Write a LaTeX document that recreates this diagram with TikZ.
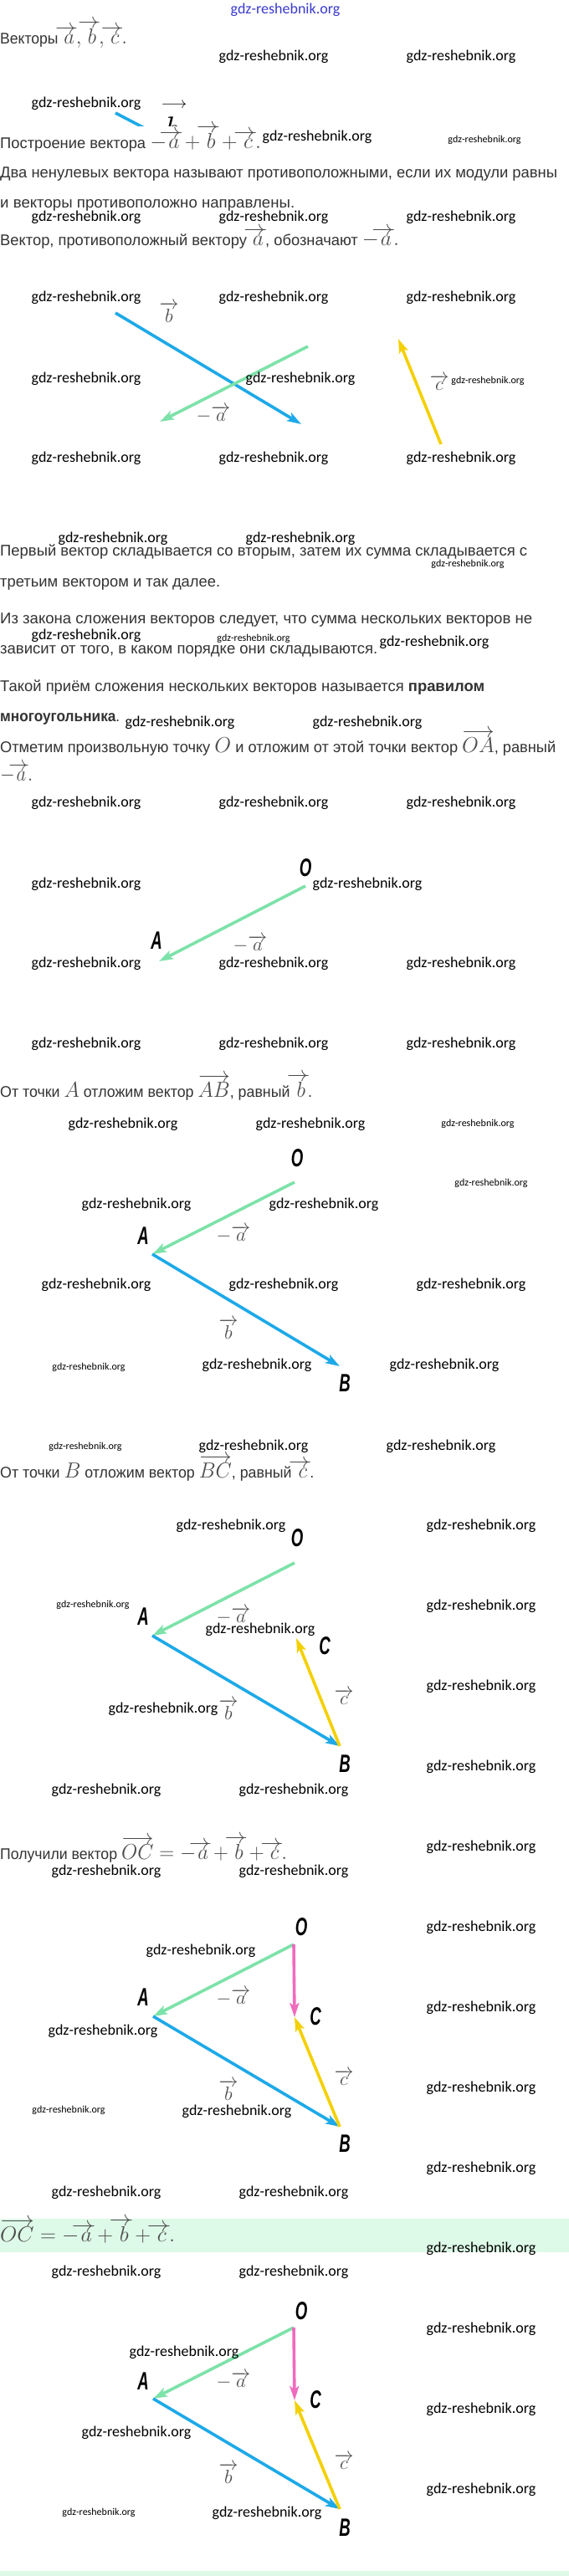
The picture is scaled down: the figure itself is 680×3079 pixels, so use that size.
\RequirePackage{fix-cm}
\documentclass[tikz,border=0pt]{standalone}
\usepackage{amsmath}
\usepackage{fontspec}
\setmainfont{Liberation Sans}
\newfontfamily\wmfont{Carlito}
\usepackage{xcolor}
\usetikzlibrary{arrows.meta}
\definecolor{txt}{HTML}{333333}
\definecolor{mth}{HTML}{4D4D4D}
\definecolor{mint}{HTML}{7DE2A9}
\definecolor{sky}{HTML}{1DA9E8}
\definecolor{gold}{HTML}{F4D000}
\definecolor{rose}{HTML}{F06BBE}
\definecolor{band}{HTML}{DDF9E7}
\definecolor{wmblue}{HTML}{3A3AD0}
% a shorter arrow over one letter
\makeatletter
\def\sarrowfill@#1#2#3#4{$\m@th\thickmuskip0mu\medmuskip\thickmuskip\thinmuskip\thickmuskip\relax#4#1\mkern-10mu\cleaders\hbox{$#4\mkern-2mu#2\mkern-2mu$}\hfill\mkern-10mu#3$}
\def\shortrightarrowfill@{\sarrowfill@\relbar\relbar\rightarrow}
\newcommand{\ora}{\mathpalette{\overarrow@\shortrightarrowfill@}}
\makeatother
% math inside the text lines
\newcommand{\mv}[1]{{\color{mth}\fontsize{26}{26}\selectfont\medmuskip=3mu$#1$}}
% squeeze a line to the width it has on the page
\newcommand{\fitw}[2]{\sbox0{#2}\scalebox{\fpeval{#1pt/\wd0}}[1]{\usebox0}}
\newcommand{\ptname}[1]{\scalebox{0.62}[1]{\bfseries\itshape #1}}
\tikzset{
  vec/.style={line width=3.6pt, -{Stealth[length=17pt,width=11pt,inset=4pt]}},
  txtline/.style={text=txt, font=\fontsize{18.5}{22}\selectfont, anchor=base west, inner sep=0pt},
  wm/.style={text=black, font=\wmfont\fontsize{18}{21}\selectfont, inner sep=0pt},
  wms/.style={text=black, font=\wmfont\fontsize{12}{14}\selectfont, inner sep=0pt},
  ptlab/.style={text=black, font=\fontsize{30}{30}\selectfont, inner sep=0pt},
  veclab/.style={text=mth, font=\fontsize{23}{23}\selectfont, inner sep=0pt}
}
\newcommand{\va}{\overrightarrow{a}}
\newcommand{\vb}{\overrightarrow{b}}
\newcommand{\vc}{\overrightarrow{c}}
\begin{document}
\begin{tikzpicture}[x=1pt,y=-1pt]
  \useasboundingbox[fill=white] (0,0) rectangle (680,3079);
  % green bands
  \fill[band] (0,2652) rectangle (680,2692);
  \fill[band] (0,3073) rectangle (680,3079);

  % text lines
  \node[txtline] (t1) at (0,52) {\fitw{152}{Векторы \mv{\ora{a}, \ora{b}, \ora{c}.}}};
  \begin{scope}
    \clip (100,110) rectangle (240,150);
    \coordinate (frA) at (138,135);
    \coordinate (frB) at (182,158);
    \draw[line width=3.6pt, sky] (frA) -- (frB);
    \node[text=black, font=\fontsize{19}{19}\selectfont, inner sep=0pt] (frarr) at (208,126) {$\longrightarrow$};
    \node[text=black, font=\fontsize{40}{40}\selectfont, anchor=north, inner sep=0pt] (frb) at (206,140) {$b$};
  \end{scope}
  \node[txtline] (t2) at (0,177) {\fitw{312}{Построение вектора \mv{-\ora{a}+\ora{b}+\ora{c}.}}};
  \node[txtline] (t3) at (0,212) {\fitw{666}{Два ненулевых вектора называют противоположными, если их модули равны}};
  \node[txtline] (t4) at (0,248) {\fitw{352}{и векторы противоположно направлены.}};
  \node[txtline] (t5) at (0,293) {\fitw{477}{Вектор, противоположный вектору \mv{\ora{a}}, обозначают \mv{-\ora{a}.}}};
  \node[txtline] (t6) at (0,664) {\fitw{630}{Первый вектор складывается со вторым, затем их сумма складывается с}};
  \node[txtline] (t7) at (0,701) {\fitw{263}{третьим вектором и так далее.}};
  \node[txtline] (t8) at (0,745) {\fitw{636}{Из закона сложения векторов следует, что сумма нескольких векторов не}};
  \node[txtline] (t9) at (0,781) {\fitw{451}{зависит от того, в каком порядке они складываются.}};
  \node[txtline] (t10) at (0,826) {\fitw{579}{Такой приём сложения нескольких векторов называется \textbf{правилом}}};
  \node[txtline] (t11) at (0,862) {\fitw{143}{\textbf{многоугольника}.}};
  \node[txtline] (t12) at (0,899) {\fitw{664}{Отметим произвольную точку \mv{O} и отложим от этой точки вектор \mv{\overrightarrow{OA}}, равный}};
  \node[txtline] (t13) at (0,933) {\fitw{39}{\mv{-\ora{a}.}}};
  \node[txtline] (t14) at (0,1311) {\fitw{373}{От точки \mv{A} отложим вектор \mv{\overrightarrow{AB}}, равный \mv{\ora{b}}.}};
  \node[txtline] (t15) at (0,1766) {\fitw{375}{От точки \mv{B} отложим вектор \mv{\overrightarrow{BC}}, равный \mv{\ora{c}}.}};
  \node[txtline] (t16) at (0,2222) {\fitw{343}{Получили вектор \mv{\overrightarrow{OC}=-\ora{a}+\ora{b}+\ora{c}.}}};
  \node[txtline] (t17) at (0,2679) {\fitw{209}{\mv{\overrightarrow{OC}=-\ora{a}+\ora{b}+\ora{c}.}}};

  % the three vectors
  \coordinate (b1s) at (138,374);
  \coordinate (b1e) at (360,507);
  \coordinate (a1s) at (368,414);
  \coordinate (a1e) at (191,504);
  \coordinate (c1s) at (527,531);
  \coordinate (c1e) at (476,405);
  \draw[vec, sky] (b1s) -- (b1e);
  \draw[vec, mint] (a1s) -- (a1e);
  \draw[vec, gold] (c1s) -- (c1e);
  \node[veclab] (lb1) at (202,373) {$\vb$};
  \node[veclab] (la1) at (255,495) {$-\va$};
  \node[veclab] (lc1) at (525,457) {$\vc$};

  % step 1: OA
  \coordinate (O2) at (365,1059);
  \coordinate (A2) at (190,1149);
  \draw[vec, mint] (O2) -- (A2);
  \node[ptlab] (nO2) at (365,1037) {\ptname{O}};
  \node[ptlab] (nA2) at (187,1124) {\ptname{A}};
  \node[veclab] (la2) at (299,1128) {$-\va$};

  % step 2: AB
  \coordinate (O3) at (352,1413);
  \coordinate (A3) at (182,1499);
  \coordinate (B3) at (406,1633);
  \draw[vec, mint] (O3) -- (A3);
  \draw[vec, sky] (A3) -- (B3);
  \node[ptlab] (nO3) at (355,1384) {\ptname{O}};
  \node[ptlab] (nA3) at (171,1477) {\ptname{A}};
  \node[ptlab] (nB3) at (412,1653) {\ptname{B}};
  \node[veclab] (la3) at (279,1475) {$-\va$};
  \node[veclab] (lb3) at (273,1588) {$\vb$};

  % step 3: BC
  \coordinate (O4) at (352,1868);
  \coordinate (A4) at (182,1955);
  \coordinate (B4) at (406,2087);
  \coordinate (C4) at (354,1958);
  \draw[vec, mint] (O4) -- (A4);
  \draw[vec, sky] (A4) -- (B4);
  \draw[vec, gold] (B4) -- (C4);
  \node[ptlab] (nO4) at (355,1838) {\ptname{O}};
  \node[ptlab] (nA4) at (171,1932) {\ptname{A}};
  \node[ptlab] (nB4) at (412,2108) {\ptname{B}};
  \node[ptlab] (nC4) at (388,1967) {\ptname{C}};
  \node[veclab] (la4) at (279,1931) {$-\va$};
  \node[veclab] (lb4) at (273,2043) {$\vb$};
  \node[veclab] (lc4) at (411,2028) {$\vc$};

  % result OC
  \coordinate (O5) at (351,2324);
  \coordinate (A5) at (183,2410);
  \coordinate (B5) at (406,2542);
  \coordinate (C5) at (352,2411);
  \draw[vec, mint] (O5) -- (A5);
  \draw[vec, sky] (A5) -- (B5);
  \draw[vec, gold] (B5) -- (C5);
  \draw[vec, rose] (O5) -- (C5);
  \node[ptlab] (nO5) at (360,2303) {\ptname{O}};
  \node[ptlab] (nA5) at (171,2387) {\ptname{A}};
  \node[ptlab] (nB5) at (412,2562) {\ptname{B}};
  \node[ptlab] (nC5) at (377,2410) {\ptname{C}};
  \node[veclab] (la5) at (279,2387) {$-\va$};
  \node[veclab] (lb5) at (273,2498) {$\vb$};
  \node[veclab] (lc5) at (411,2483) {$\vc$};

  % result OC again
  \coordinate (O6) at (351,2782);
  \coordinate (A6) at (183,2867);
  \coordinate (B6) at (406,2999);
  \coordinate (C6) at (352,2869);
  \draw[vec, mint] (O6) -- (A6);
  \draw[vec, sky] (A6) -- (B6);
  \draw[vec, gold] (B6) -- (C6);
  \draw[vec, rose] (O6) -- (C6);
  \node[ptlab] (nO6) at (360,2762) {\ptname{O}};
  \node[ptlab] (nA6) at (171,2846) {\ptname{A}};
  \node[ptlab] (nB6) at (412,3021) {\ptname{B}};
  \node[ptlab] (nC6) at (377,2868) {\ptname{C}};
  \node[veclab] (la6) at (279,2845) {$-\va$};
  \node[veclab] (lb6) at (273,2956) {$\vb$};
  \node[veclab] (lc6) at (411,2942) {$\vc$};

  % watermarks
  \node[wm, text=wmblue] (wm0) at (341,12) {gdz-reshebnik.org};
  \foreach \x/\y [count=\i] in {327/68,551/68,103/124,379/164,103/260,327/260,551/260,
      103/356,327/356,551/356,103/453,359/453,103/548,327/548,551/548,
      135/644,359/644,103/760,519/768,215/864,439/864,
      103/960,327/960,551/960,103/1057,439/1057,103/1152,327/1152,551/1152,103/1248,327/1248,551/1248,
      147/1344,371/1344,163/1440,387/1440,115/1536,339/1536,563/1536,307/1632,531/1632,303/1729,527/1729,
      276/1824,575/1824,575/1920,311/1948,575/2016,195/2043,575/2112,127/2140,351/2140,
      575/2208,127/2237,351/2237,575/2304,240/2332,575/2400,123/2428,575/2496,283/2524,575/2592,
      127/2621,351/2621,575/2688,127/2716,351/2716,575/2784,220/2812,575/2880,163/2908,575/2976,319/3004}
    \node[wm] (wm\i) at (\x,\y) {gdz-reshebnik.org};
  \foreach \x/\y [count=\i] in {579/167,583/455,559/674,303/763,571/1343,587/1414,
      106/1634,102/1729,111/1918,82/2522,118/3003}
    \node[wms] (wms\i) at (\x,\y) {gdz-reshebnik.org};
\end{tikzpicture}
\end{document}
